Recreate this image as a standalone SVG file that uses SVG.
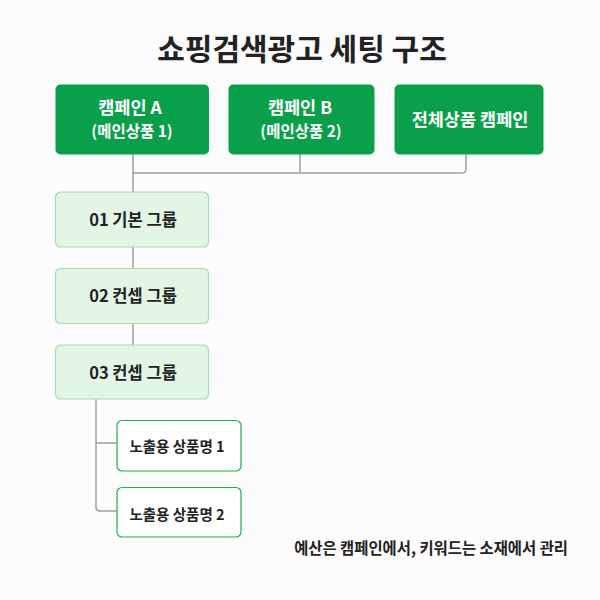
<svg xmlns="http://www.w3.org/2000/svg" width="600" height="600" viewBox="0 0 600 600">
<style>
text{font-family:"Noto Sans CJK KR","Noto Sans",sans-serif;font-weight:700;text-anchor:middle}
.camp rect{fill:#0a9f4a}
.camp text{fill:#ffffff;font-size:17.5px}
.camp .sub{font-size:15.5px}
.grp rect{fill:#e3f5e5;stroke:#a3deac;stroke-width:1.2}
.grp text{fill:#222222;font-size:16.5px}
.item rect{fill:#ffffff;stroke:#22ad4c;stroke-width:1.2}
.item text{fill:#222222;font-size:14.5px}
.conn path{fill:none;stroke:#9e9e9e;stroke-width:1.5}
</style>
<rect width="600" height="600" fill="#fcfcfc"/>
<text x="302" y="60" font-size="30" fill="#222222">쇼핑검색광고 세팅 구조</text>
<g class="conn">
<path d="M133 154V192"/>
<path d="M133 173H462q4 0 4-4V154"/>
<path d="M300 154V173"/>
<path d="M133 247V268"/>
<path d="M133 323V345"/>
<path d="M96 399V507q0 4 4 4H117"/>
<path d="M96 443H117"/>
</g>
<g id="campA" class="camp"><rect x="55.5" y="84.5" width="153.5" height="70" rx="5"/><text x="130" y="114">캠페인 A</text><text class="sub" x="132" y="137">(메인상품 1)</text></g>
<g id="campB" class="camp"><rect x="228.5" y="84.5" width="146" height="70" rx="5"/><text x="300" y="114">캠페인 B</text><text class="sub" x="301" y="137">(메인상품 2)</text></g>
<g id="campAll" class="camp"><rect x="394.5" y="84.5" width="149" height="70" rx="5"/><text x="470" y="126">전체상품 캠페인</text></g>
<g id="grp01" class="grp"><rect x="55.5" y="192" width="153" height="55" rx="5"/><text x="133" y="226">01 기본 그룹</text></g>
<g id="grp02" class="grp"><rect x="55.5" y="268.5" width="153" height="55" rx="5"/><text x="133" y="302">02 컨셉 그룹</text></g>
<g id="grp03" class="grp"><rect x="55.5" y="345" width="153" height="54" rx="5"/><text x="133" y="379">03 컨셉 그룹</text></g>
<g id="item1" class="item"><rect x="117" y="420.5" width="124" height="50.5" rx="5"/><text x="177" y="452">노출용 상품명 1</text></g>
<g id="item2" class="item"><rect x="117" y="487.5" width="124" height="49.5" rx="5"/><text x="177" y="520">노출용 상품명 2</text></g>
<text x="568" y="554" font-size="15.4" fill="#222222" style="text-anchor:end">예산은 캠페인에서, 키워드는 소재에서 관리</text>
</svg>
